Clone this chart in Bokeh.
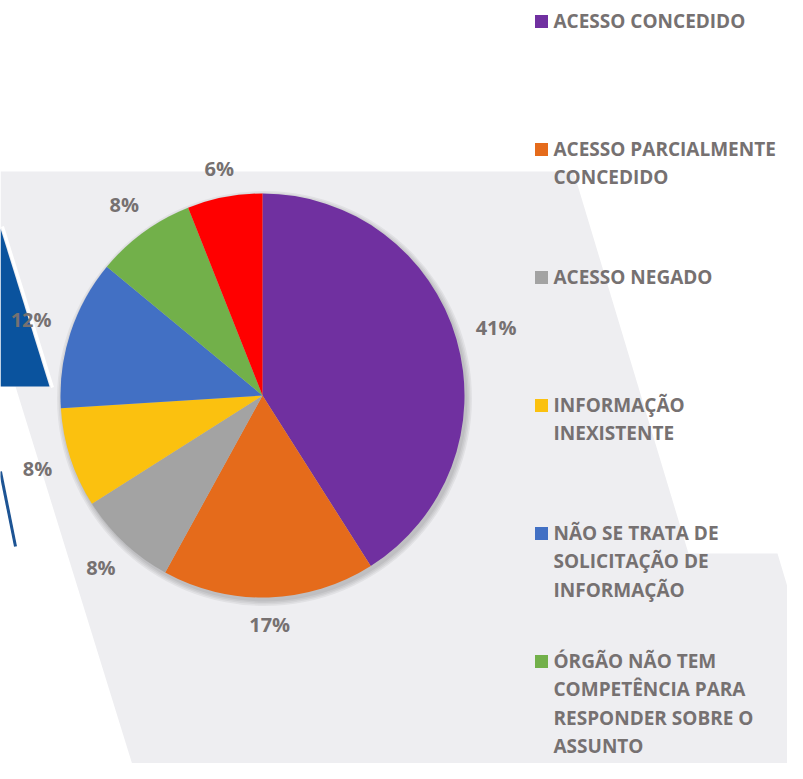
import math
from bokeh.plotting import figure
from bokeh.models import Range1d
from bokeh.core.properties import value
from bokeh.embed import file_html
from bokeh.resources import INLINE

# ---------------- data ----------------
categories = [
    "ACESSO CONCEDIDO",
    "ACESSO PARCIALMENTE CONCEDIDO",
    "ACESSO NEGADO",
    "INFORMAÇÃO INEXISTENTE",
    "NÃO SE TRATA DE SOLICITAÇÃO DE INFORMAÇÃO",
    "ÓRGÃO NÃO TEM COMPETÊNCIA PARA RESPONDER SOBRE O ASSUNTO",
    "",
]
percentages = [41, 17, 8, 8, 12, 8, 6]
colors = ["#7030a0", "#e56b1b", "#a3a3a3", "#fbc10f", "#4270c4", "#72b04a", "#ff0000"]
legend_lines = [
    ["ACESSO CONCEDIDO"],
    ["ACESSO PARCIALMENTE", "CONCEDIDO"],
    ["ACESSO NEGADO"],
    ["INFORMAÇÃO", "INEXISTENTE"],
    ["NÃO SE TRATA DE", "SOLICITAÇÃO DE", "INFORMAÇÃO"],
    ["ÓRGÃO NÃO TEM", "COMPETÊNCIA PARA", "RESPONDER SOBRE O", "ASSUNTO"],
]

# ---------------- layout / style ----------------
W, H = 803, 779
FONT = value("Open Sans")
TXT = "#767171"
CX, CY, R = 262, 395, 202        # pie centre / radius in screen pixels
TXT_SHIFT = 8                    # svg text renders a little lower than the anchor


def Y(ys):
    return H - ys


p = figure(width=787, height=763, x_range=Range1d(0, 787), y_range=Range1d(16, 779),
           output_backend="svg", toolbar_location=None, min_border=0,
           x_axis_location=None, y_axis_location=None)
p.grid.visible = False
p.outline_line_color = None
p.background_fill_color = "white"
p.border_fill_color = "white"

# ---------------- background decoration ----------------
bg_gray = [(0, 171), (573, 171), (688, 553), (777, 553), (803, 640), (803, 800),
           (143, 800), (15, 386), (0, 386)]
p.patch([q[0] for q in bg_gray], [Y(q[1]) for q in bg_gray], fill_color="#eeeef1", line_color=None)
tri = [(0, 228), (49, 386), (0, 386)]
p.patch([q[0] for q in tri], [Y(q[1]) for q in tri], fill_color="#0a539e", line_color=None)
p.line([2, 52], [Y(226), Y(387)], line_color="white", line_width=3)
p.line([0, 15], [Y(471), Y(546)], line_color="#1d5494", line_width=3)

# ---------------- pie shadow ----------------
for k in range(4):
    p.circle(x=[CX + 2], y=[Y(CY + 3)], radius=R + 1 + k * 1.5, fill_color="black",
             fill_alpha=0.05, line_color=None)

# ---------------- pie ----------------
total = float(sum(percentages))
starts, ends, cum = [], [], 0.0
for v in percentages:
    starts.append(math.pi / 2 - 2 * math.pi * cum / total)
    cum += v
    ends.append(math.pi / 2 - 2 * math.pi * cum / total)

p.wedge(x=CX, y=Y(CY), radius=R, start_angle=starts, end_angle=ends, direction="clock",
        fill_color=colors, line_color=None)

# ---------------- percentage labels ----------------
lx, ly, lt = [], [], []
cum = 0.0
for v in percentages:
    mid = 2 * math.pi * (cum + v / 2) / total
    cum += v
    label = f"{v}%"
    w = 14 * len(label)
    h = 15
    e = abs(math.sin(mid)) * w / 2 + abs(math.cos(mid)) * h / 2
    d = R + 19 + e
    sx = CX + d * math.sin(mid)
    sy = CY - d * math.cos(mid)
    lx.append(sx)
    ly.append(Y(sy + 7.5 - TXT_SHIFT))
    lt.append(label)
p.text(x=lx, y=ly, text=lt, text_font=FONT, text_font_style="bold", text_font_size="20px",
       text_color=TXT, text_align="center", text_baseline="alphabetic")

# ---------------- legend ----------------
sq_x, sq_y, tx, ty, tt = [], [], [], [], []
for i, lines in enumerate(legend_lines):
    cap_mid = 21 + 128 * i
    sq_x.append(541)
    sq_y.append(Y(cap_mid))
    for j, line in enumerate(lines):
        tx.append(553)
        ty.append(Y(cap_mid + 28.5 * j + 7 - TXT_SHIFT))
        tt.append(line)
p.rect(x=sq_x, y=sq_y, width=13, height=13, fill_color=colors[:len(legend_lines)], line_color=None)
p.text(x=tx, y=ty, text=tt, text_font=FONT, text_font_style="bold", text_font_size="19px",
       text_color=TXT, text_align="left", text_baseline="alphabetic")

open("out.html", "w").write(file_html(p, INLINE))
